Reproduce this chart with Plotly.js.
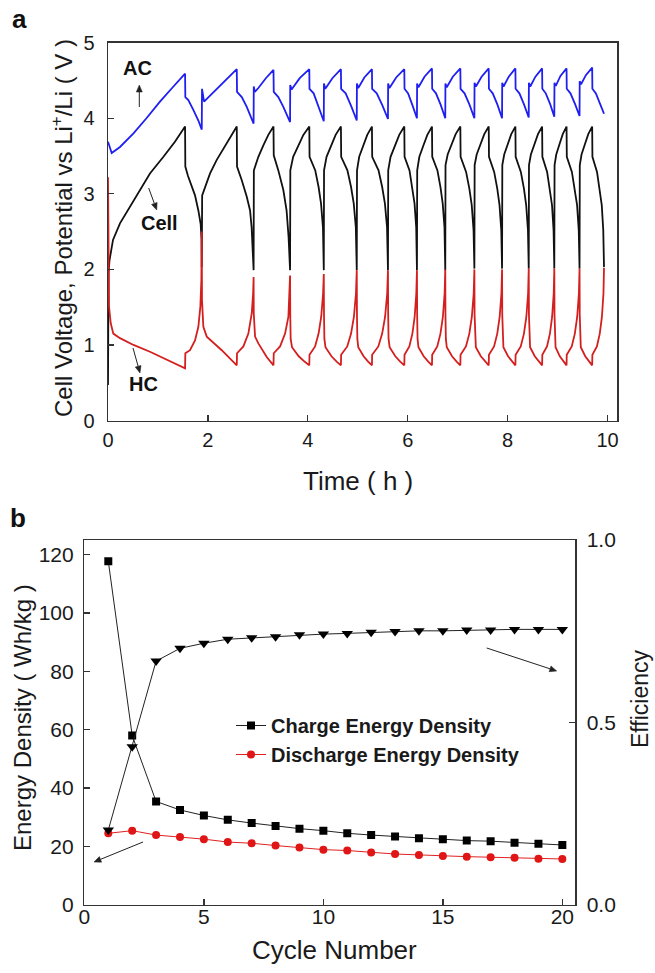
<!DOCTYPE html>
<html><head><meta charset="utf-8">
<script src="https://cdn.plot.ly/plotly-3.0.1.min.js"></script>
<style>html,body{margin:0;padding:0;background:#fff}#chart{width:655px;height:973px}</style>
</head><body><div id="chart"></div>
<script>
// ---------- Panel a: potentials vs time, [time (h), potential (V)] ----------
const acPts = [
[0,3.69],[0.074,3.54],[0.24,3.62],[0.51,3.80],[0.77,4.00],[1.04,4.22],[1.31,4.42],[1.543,4.59],
[1.548,4.28],[1.608,4.24],[1.708,4.11],[1.809,3.97],[1.877,3.85],
[1.882,4.39],[1.923,4.22],[2.25,4.44],[2.578,4.65],
[2.583,4.35],[2.678,4.28],[2.778,4.15],[2.915,3.93],
[2.918,4.42],[2.94,4.35],[3.01,4.40],[3.16,4.53],[3.313,4.64],
[3.318,4.35],[3.41,4.28],[3.51,4.15],[3.645,3.95],
[3.648,4.44],[3.675,4.38],[3.838,4.53],[4.03,4.65],[4.034,4.39],[4.117,4.33],[4.219,4.15],[4.32,3.96],
[4.323,4.46],[4.35,4.39],[4.492,4.53],[4.663,4.65],[4.667,4.39],[4.758,4.33],[4.869,4.16],[4.98,3.97],
[4.983,4.46],[5.01,4.40],[5.132,4.54],[5.284,4.65],[5.288,4.39],[5.38,4.33],[5.493,4.17],[5.605,3.99],
[5.608,4.46],[5.635,4.40],[5.769,4.54],[5.932,4.65],[5.936,4.39],[6.008,4.33],[6.096,4.17],[6.185,4.00],
[6.188,4.46],[6.215,4.41],[6.336,4.55],[6.486,4.66],[6.49,4.39],[6.566,4.33],[6.659,4.18],[6.752,4.00],
[6.755,4.46],[6.782,4.41],[6.903,4.55],[7.054,4.66],[7.058,4.39],[7.138,4.33],[7.237,4.18],[7.335,4.00],
[7.338,4.47],[7.365,4.42],[7.479,4.55],[7.622,4.66],[7.626,4.39],[7.702,4.33],[7.796,4.18],[7.889,4.00],
[7.892,4.47],[7.919,4.42],[8.023,4.55],[8.156,4.66],[8.16,4.39],[8.236,4.33],[8.33,4.18],[8.423,4.01],
[8.426,4.47],[8.453,4.42],[8.557,4.55],[8.691,4.66],[8.695,4.39],[8.764,4.33],[8.85,4.19],[8.935,4.02],
[8.938,4.47],[8.965,4.43],[9.058,4.56],[9.18,4.66],[9.184,4.39],[9.258,4.33],[9.349,4.19],[9.44,4.03],
[9.443,4.49],[9.47,4.45],[9.567,4.57],[9.693,4.67],[9.697,4.39],[9.768,4.33],[9.851,4.19],[9.93,4.06]
];
const cellPts = [
[0,0.47],[0.01,1.95],[0.03,2.12],[0.1,2.39],[0.24,2.61],[0.44,2.83],[0.64,3.05],[0.84,3.27],[1.11,3.49],[1.34,3.69],[1.543,3.89],
[1.548,3.36],[1.60,3.24],[1.645,3.16],[1.742,2.98],[1.809,2.78],[1.855,2.60],[1.872,2.40],[1.877,2.03],
[1.885,2.98],[1.943,3.09],[2.043,3.27],[2.177,3.45],[2.309,3.60],[2.443,3.75],[2.578,3.89],
[2.583,3.36],[2.678,3.18],[2.778,2.96],[2.844,2.78],[2.875,2.56],[2.897,2.30],[2.915,1.99],
[2.92,3.31],[3.01,3.49],[3.11,3.64],[3.21,3.78],[3.313,3.89],
[3.318,3.51],[3.41,3.31],[3.51,3.05],[3.575,2.78],[3.615,2.43],[3.645,1.99],
[3.65,3.31],[3.707,3.49],[3.811,3.64],[3.911,3.78],[4.03,3.89],
[4.035,3.49],[4.149,3.31],[4.216,3.09],[4.265,2.87],[4.303,2.56],[4.32,1.99],
[4.325,3.31],[4.375,3.49],[4.467,3.64],[4.557,3.78],[4.663,3.89],
[4.668,3.49],[4.793,3.31],[4.866,3.09],[4.92,2.87],[4.961,2.56],[4.98,1.99],
[4.985,3.31],[5.029,3.49],[5.111,3.64],[5.19,3.78],[5.284,3.89],
[5.289,3.49],[5.416,3.31],[5.489,3.09],[5.544,2.87],[5.586,2.56],[5.605,1.99],
[5.61,3.31],[5.657,3.49],[5.746,3.64],[5.831,3.78],[5.932,3.89],
[5.937,3.49],[6.036,3.31],[6.094,3.09],[6.137,2.87],[6.17,2.56],[6.185,1.99],
[6.19,3.31],[6.233,3.49],[6.314,3.64],[6.393,3.78],[6.486,3.89],
[6.491,3.49],[6.595,3.31],[6.656,3.09],[6.701,2.87],[6.736,2.56],[6.752,1.99],
[6.757,3.38],[6.8,3.52],[6.882,3.66],[6.96,3.79],[7.054,3.89],
[7.059,3.49],[7.169,3.29],[7.234,3.07],[7.282,2.85],[7.318,2.52],[7.335,2.01],
[7.34,3.38],[7.381,3.52],[7.458,3.66],[7.533,3.79],[7.622,3.89],
[7.627,3.49],[7.731,3.29],[7.793,3.07],[7.838,2.85],[7.873,2.52],[7.889,2.01],
[7.894,3.38],[7.932,3.52],[8.004,3.66],[8.073,3.79],[8.156,3.89],
[8.161,3.49],[8.265,3.29],[8.327,3.07],[8.372,2.85],[8.407,2.52],[8.423,2.01],
[8.428,3.38],[8.466,3.52],[8.538,3.66],[8.608,3.79],[8.691,3.89],
[8.696,3.49],[8.791,3.29],[8.847,3.07],[8.889,2.85],[8.92,2.52],[8.935,2.01],
[8.94,3.38],[8.974,3.52],[9.04,3.66],[9.104,3.79],[9.18,3.89],
[9.185,3.49],[9.287,3.29],[9.346,3.07],[9.391,2.85],[9.424,2.52],[9.44,2.01],
[9.445,3.38],[9.48,3.52],[9.549,3.66],[9.615,3.79],[9.693,3.89],
[9.698,3.49],[9.79,3.29],[9.845,3.07],[9.885,2.85],[9.915,2.52],[9.93,2.03]
];
const hcPts = [
[0,3.22],[0.02,1.51],[0.054,1.29],[0.106,1.15],[0.24,1.09],[0.51,1.00],[0.84,0.91],[1.176,0.81],[1.543,0.69],
[1.548,0.89],[1.642,0.93],[1.742,1.06],[1.809,1.24],[1.849,1.51],[1.869,1.86],[1.877,2.50],
[1.882,1.59],[1.909,1.24],[1.977,1.11],[2.277,0.93],[2.578,0.73],
[2.583,0.89],[2.71,0.98],[2.81,1.15],[2.878,1.42],[2.905,1.68],[2.915,1.90],
[2.918,1.42],[2.944,1.11],[3.01,1.02],[3.178,0.84],[3.313,0.73],
[3.318,0.89],[3.445,0.98],[3.545,1.15],[3.611,1.37],[3.633,1.68],[3.645,1.92],
[3.649,1.40],[3.657,1.08],[3.684,0.97],[3.818,0.85],[3.934,0.78],[4.03,0.73],
[4.034,0.87],[4.146,0.98],[4.216,1.15],[4.268,1.37],[4.306,1.68],[4.32,1.94],
[4.324,1.40],[4.332,1.08],[4.354,0.97],[4.474,0.85],[4.577,0.78],[4.663,0.73],
[4.667,0.87],[4.79,0.98],[4.866,1.15],[4.923,1.37],[4.964,1.68],[4.98,1.99],
[4.984,1.40],[4.992,1.08],[5.01,0.97],[5.117,0.85],[5.208,0.78],[5.284,0.73],
[5.288,0.87],[5.412,0.98],[5.489,1.15],[5.547,1.37],[5.589,1.68],[5.605,1.99],
[5.609,1.40],[5.617,1.08],[5.638,0.97],[5.752,0.85],[5.85,0.78],[5.932,0.73],
[5.936,0.87],[6.033,0.98],[6.094,1.15],[6.139,1.37],[6.172,1.68],[6.185,1.99],
[6.189,1.40],[6.197,1.08],[6.215,0.97],[6.32,0.85],[6.411,0.78],[6.486,0.73],
[6.49,0.87],[6.592,0.98],[6.656,1.15],[6.704,1.37],[6.739,1.68],[6.752,2.00],
[6.756,1.40],[6.764,1.08],[6.782,0.97],[6.888,0.85],[6.979,0.78],[7.054,0.73],
[7.058,0.87],[7.166,0.98],[7.234,1.15],[7.284,1.37],[7.321,1.68],[7.335,2.00],
[7.339,1.40],[7.347,1.08],[7.364,0.97],[7.464,0.85],[7.55,0.78],[7.622,0.73],
[7.626,0.87],[7.729,0.98],[7.793,1.15],[7.841,1.37],[7.876,1.68],[7.889,2.00],
[7.893,1.40],[7.901,1.08],[7.916,0.97],[8.009,0.85],[8.089,0.78],[8.156,0.73],
[8.16,0.87],[8.263,0.98],[8.327,1.15],[8.375,1.37],[8.41,1.68],[8.423,2.01],
[8.427,1.40],[8.435,1.08],[8.45,0.97],[8.544,0.85],[8.624,0.78],[8.691,0.73],
[8.695,0.87],[8.789,0.98],[8.847,1.15],[8.891,1.37],[8.923,1.68],[8.935,2.01],
[8.939,1.40],[8.947,1.08],[8.96,0.97],[9.045,0.85],[9.119,0.78],[9.18,0.73],
[9.184,0.87],[9.284,0.98],[9.346,1.15],[9.393,1.37],[9.427,1.68],[9.44,2.01],
[9.444,1.40],[9.452,1.08],[9.465,0.97],[9.554,0.85],[9.63,0.78],[9.693,0.73],
[9.697,0.87],[9.788,0.98],[9.845,1.15],[9.888,1.37],[9.919,1.68],[9.93,2.02]
];

// ---------- Panel b: energy density and efficiency vs cycle ----------
const cycleNumber = [1,2,3,4,5,6,7,8,9,10,11,12,13,14,15,16,17,18,19,20];
const chargeED = [117.7,58.0,35.4,32.5,30.6,29.1,28.0,27.0,26.1,25.4,24.5,23.9,23.4,22.8,22.5,22.0,21.8,21.3,20.9,20.5];
const dischargeED = [24.5,25.4,23.9,23.2,22.5,21.5,21.1,20.3,19.6,18.9,18.6,17.9,17.4,17.1,16.7,16.5,16.3,16.1,15.8,15.7];
const efficiency = [0.205,0.433,0.668,0.703,0.717,0.728,0.732,0.735,0.740,0.742,0.744,0.747,0.749,0.751,0.751,0.753,0.753,0.755,0.755,0.755];

const seriesNames = ['Charge Energy Density','Discharge Energy Density','Efficiency'];
const xTicksTop = [0,2,4,6,8,10];
const yTicksTop = [0,1,2,3,4,5];
const xTicksBot = [0,5,10,15,20];
const yTicksBot = [0,20,40,60,80,100,120];
const yTicksEff = [0,0.5,1];

// ---------- layout helpers (positions only) ----------
const W = 655, H = 973;
const px = v => v / W;
const py = v => 1 - v / H;
const FONT = 'Liberation Sans, Arial, Helvetica, sans-serif';
const TXT = '#1a1a1a';

const col = (arr, i) => arr.map(p => p[i]);

const traces = [
  {x: col(cellPts,0), y: col(cellPts,1), xaxis:'x', yaxis:'y', mode:'lines', showlegend:false,
   line:{color:'#111111', width:1.8}, name:'Cell'},
  {x: col(hcPts,0), y: col(hcPts,1), xaxis:'x', yaxis:'y', mode:'lines', showlegend:false,
   line:{color:'#d41f1f', width:1.8}, name:'HC'},
  {x: col(acPts,0), y: col(acPts,1), xaxis:'x', yaxis:'y', mode:'lines', showlegend:false,
   line:{color:'#1f1ff2', width:1.8}, name:'AC'},
  {x: cycleNumber, y: efficiency, xaxis:'x2', yaxis:'y3', mode:'lines+markers', showlegend:false,
   name: seriesNames[2], line:{color:'#222', width:1}, marker:{symbol:'triangle-down', size:10, color:'#000'}},
  {x: cycleNumber, y: chargeED, xaxis:'x2', yaxis:'y2', mode:'lines+markers', name: seriesNames[0],
   legendgroup:'g1', line:{color:'#222', width:1}, marker:{symbol:'square', size:8, color:'#000'}},
  {x: cycleNumber, y: dischargeED, xaxis:'x2', yaxis:'y2', mode:'lines+markers', name: seriesNames[1],
   legendgroup:'g2', line:{color:'#e02020', width:1}, marker:{symbol:'circle', size:8, color:'#e01515'}}
];

const axBase = {
  showline:true, linecolor:'#333', linewidth:1.5, mirror:true, ticks:'inside', ticklen:6,
  tickwidth:1.3, tickcolor:'#333', showgrid:false, zeroline:false,
  tickfont:{family:FONT, size:20, color:TXT}, fixedrange:true
};

const center = {xref:'paper', yref:'paper', showarrow:false, xanchor:'center', yanchor:'middle'};

// pointer arrows drawn as shapes: [tailX, tailY, headX, headY] in page pixels (positions only)
const pointerArrows = [
  [139.3,107, 139.3,85],
  [148.7,188, 156.7,210],
  [133,348, 140,373],
  [486.7,648, 556.7,671],
  [143,842, 94,862]
];
const shapes = [];
pointerArrows.forEach(([x0,y0,x1,y1]) => {
  const dx = x1-x0, dy = y1-y0, L = Math.hypot(dx,dy), ux = dx/L, uy = dy/L;
  const hl = 7, hw = 3;
  const bx = x1 - ux*hl, by = y1 - uy*hl;
  shapes.push({type:'line', xref:'paper', yref:'paper', x0:px(x0), y0:py(y0), x1:px(bx), y1:py(by),
    line:{color:'#222', width:1}});
  const p1 = [bx - uy*hw, by + ux*hw], p2 = [bx + uy*hw, by - ux*hw];
  shapes.push({type:'path', xref:'paper', yref:'paper',
    path:`M ${px(x1)} ${py(y1)} L ${px(p1[0])} ${py(p1[1])} L ${px(p2[0])} ${py(p2[1])} Z`,
    fillcolor:'#222', line:{color:'#222', width:0.5}});
});

const layout = {
  width:W, height:H, margin:{l:0,r:0,t:0,b:0}, paper_bgcolor:'#fff', plot_bgcolor:'#fff',
  font:{family:FONT, color:TXT},
  xaxis: Object.assign({}, axBase, {domain:[px(108), px(617)], range:[0,10.19], tickvals:xTicksTop,
    anchor:'y', ticklabelstandoff:1}),
  yaxis: Object.assign({}, axBase, {domain:[py(420.5), py(42.7)], range:[0,5], tickvals:yTicksTop,
    anchor:'x', ticklabelstandoff:8}),
  xaxis2: Object.assign({}, axBase, {domain:[px(84.4), px(575)], range:[0,20.53], tickvals:xTicksBot,
    anchor:'y2', ticklabelstandoff:-8, tickfont:{family:FONT, size:21, color:TXT}}),
  yaxis2: Object.assign({}, axBase, {domain:[py(904.8), py(540)], range:[0,125], tickvals:yTicksBot,
    anchor:'x2', mirror:false, ticklabelstandoff:5, tickfont:{family:FONT, size:21, color:TXT}}),
  yaxis3: Object.assign({}, axBase, {domain:[py(904.8), py(540)], range:[0,1], tickvals:yTicksEff,
    tickformat:'.1f', overlaying:'y2', side:'right', anchor:'x2', mirror:false, ticklabelstandoff:6,
    tickfont:{family:FONT, size:21, color:TXT}}),
  legend:{x:px(231), y:py(706), xanchor:'left', yanchor:'top', bgcolor:'rgba(0,0,0,0)',
    traceorder:'grouped', tracegroupgap:0,
    font:{family:FONT, size:20, color:TXT, weight:'bold'}},
  shapes: shapes,
  annotations:[
    Object.assign({}, center, {text:'a', x:px(19), y:py(19), font:{family:FONT, size:26, color:'#111', weight:'bold'}}),
    Object.assign({}, center, {text:'b', x:px(18), y:py(518), font:{family:FONT, size:26, color:'#111', weight:'bold'}}),
    Object.assign({}, center, {text:'Cell Voltage, Potential vs Li<sup>+</sup>/Li ( V )', x:px(62), y:py(228),
      textangle:-90, font:{family:FONT, size:24, color:TXT}}),
    Object.assign({}, center, {text:'Time ( h )', x:px(358), y:py(481), font:{family:FONT, size:26, color:TXT}}),
    Object.assign({}, center, {text:'Energy Density ( Wh/kg )', x:px(22), y:py(718), textangle:-90,
      font:{family:FONT, size:24, color:TXT}}),
    Object.assign({}, center, {text:'Cycle Number', x:px(334), y:py(950), font:{family:FONT, size:26, color:TXT}}),
    Object.assign({}, center, {text:'Efficiency', x:px(640), y:py(699), textangle:-90,
      font:{family:FONT, size:23, color:TXT}}),
    Object.assign({}, center, {text:'AC', x:px(137), y:py(68), font:{family:FONT, size:20, color:'#111', weight:'bold'}}),
    Object.assign({}, center, {text:'Cell', x:px(159), y:py(223), font:{family:FONT, size:20, color:'#111', weight:'bold'}}),
    Object.assign({}, center, {text:'HC', x:px(143), y:py(384), font:{family:FONT, size:20, color:'#111', weight:'bold'}})
  ]
};

Plotly.newPlot('chart', traces, layout, {staticPlot:true, displayModeBar:false});
</script></body></html>
